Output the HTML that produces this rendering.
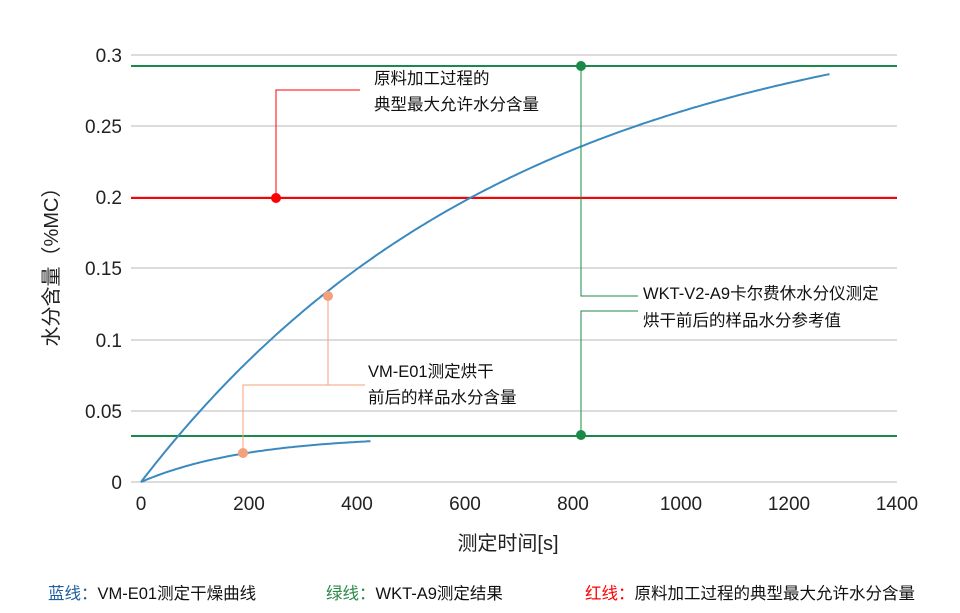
<!DOCTYPE html>
<html><head><meta charset="utf-8"><style>
body{margin:0;background:#fff;width:960px;height:608px;overflow:hidden}
text{font-family:"Liberation Sans","Noto Sans CJK SC",sans-serif}
</style></head><body>
<svg id="s" width="960" height="608" xmlns="http://www.w3.org/2000/svg">
<g stroke="#c8c8c8" stroke-width="1.3">
<line x1="131" y1="55" x2="897" y2="55"/><line x1="131" y1="126" x2="897" y2="126"/>
<line x1="131" y1="197" x2="897" y2="197"/><line x1="131" y1="268" x2="897" y2="268"/>
<line x1="131" y1="340" x2="897" y2="340"/><line x1="131" y1="411" x2="897" y2="411"/>
<line x1="131" y1="482" x2="897" y2="482"/>
</g>
<g font-size="19" fill="#222" text-anchor="end">
<text x="122" y="62">0.3</text><text x="122" y="133">0.25</text><text x="122" y="204">0.2</text>
<text x="122" y="275">0.15</text><text x="122" y="347">0.1</text><text x="122" y="418">0.05</text><text x="122" y="489">0</text>
</g>
<g font-size="19" fill="#222" text-anchor="middle">
<text x="141" y="510">0</text><text x="249" y="510">200</text><text x="357" y="510">400</text><text x="465" y="510">600</text>
<text x="573" y="510">800</text><text x="681" y="510">1000</text><text x="789" y="510">1200</text><text x="897" y="510">1400</text>
<text x="508" y="550" font-size="20">测定时间[s]</text>
</g>
<text transform="translate(58,262) rotate(-90)" font-size="20" fill="#222" text-anchor="middle">水分含量（%MC）</text>
<line x1="131" y1="66" x2="897" y2="66" stroke="#1a8a4a" stroke-width="2"/>
<line x1="131" y1="436" x2="897" y2="436" stroke="#1a8a4a" stroke-width="2"/>
<line x1="131" y1="198" x2="897" y2="198" stroke="#f00" stroke-width="2"/>
<path id="c1" fill="none" stroke="#3a8ac0" stroke-width="2"/>
<path id="c2" fill="none" stroke="#3a8ac0" stroke-width="2"/>
<polyline points="276,198 276,90 360,90" fill="none" stroke="#f00" stroke-width="1"/>
<circle cx="276" cy="198" r="5" fill="#f00"/>
<polyline points="581,66 581,296 638,296" fill="none" stroke="#1a8a4a" stroke-width="1"/>
<polyline points="581,435 581,311 638,311" fill="none" stroke="#1a8a4a" stroke-width="1"/>
<circle cx="581" cy="66" r="5" fill="#1a8a4a"/><circle cx="581" cy="435" r="5" fill="#1a8a4a"/>
<polyline points="328,296 328,385 365,385" fill="none" stroke="#f4a07a" stroke-width="1"/>
<polyline points="243,453 243,385 328,385" fill="none" stroke="#f4a07a" stroke-width="1"/>
<circle cx="328" cy="296" r="5" fill="#f4a07a"/><circle cx="243" cy="453" r="5" fill="#f4a07a"/>
<g font-size="16.5" fill="#111">
<text x="374" y="84">原料加工过程的</text><text x="374" y="110">典型最大允许水分含量</text>
<text x="643" y="299">WKT-V2-A9卡尔费休水分仪测定</text><text x="643" y="326">烘干前后的样品水分参考值</text>
<text x="368" y="377">VM-E01测定烘干</text><text x="368" y="403">前后的样品水分含量</text>
</g>
<g font-size="16.5" fill="#111">
<text x="48" y="599"><tspan fill="#1f5fa0">蓝线：</tspan>VM-E01测定干燥曲线</text>
<text x="326" y="599"><tspan fill="#2a8a4a">绿线：</tspan>WKT-A9测定结果</text>
<text x="585" y="599"><tspan fill="#f00">红线：</tspan>原料加工过程的典型最大允许水分含量</text>
</g>
</svg>
<script>
function mk(a,t,xmax){var d="";for(var x=0;x<=xmax;x+=5){var y=a*(1-Math.exp(-x/t));var px=141+x*0.54,py=482-y*1424;d+=(x?"L":"M")+px.toFixed(1)+","+py.toFixed(1);}return d;}
document.getElementById("c1").setAttribute("d",mk(0.34,690,1275));
document.getElementById("c2").setAttribute("d",mk(0.0325,199,425));
</script>
</body></html>
